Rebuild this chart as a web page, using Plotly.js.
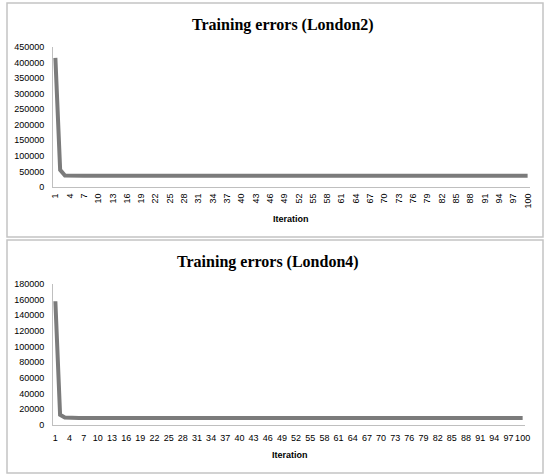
<!DOCTYPE html>
<html>
<head>
<meta charset="utf-8">
<script src="https://cdn.plot.ly/plotly-3.0.1.min.js"></script>
<style>html,body{margin:0;padding:0;background:#fff;}#chart{width:550px;height:475px;}</style>
</head>
<body>
<div id="chart"></div>
<script>
var titleTop = "Training errors (London2)";
var titleBottom = "Training errors (London4)";
var xAxisTitle = "Iteration";

var iterations = [];
for (var i = 1; i <= 100; i++) iterations.push(i);
var tickLabels = [1,4,7,10,13,16,19,22,25,28,31,34,37,40,43,46,49,52,55,58,61,64,67,70,73,76,79,82,85,88,91,94,97,100];

var errorsLondon2 = [
415000,55000,37000,36000,36000,36000,36000,36000,36000,36000,
36000,36000,36000,36000,36000,36000,36000,36000,36000,36000,
36000,36000,36000,36000,36000,36000,36000,36000,36000,36000,
36000,36000,36000,36000,36000,36000,36000,36000,36000,36000,
36000,36000,36000,36000,36000,36000,36000,36000,36000,36000,
36000,36000,36000,36000,36000,36000,36000,36000,36000,36000,
36000,36000,36000,36000,36000,36000,36000,36000,36000,36000,
36000,36000,36000,36000,36000,36000,36000,36000,36000,36000,
36000,36000,36000,36000,36000,36000,36000,36000,36000,36000,
36000,36000,36000,36000,36000,36000,36000,36000,36000,36000
];
var errorsLondon4 = [
158000,13000,9500,9000,9000,9000,9000,9000,9000,9000,
9000,9000,9000,9000,9000,9000,9000,9000,9000,9000,
9000,9000,9000,9000,9000,9000,9000,9000,9000,9000,
9000,9000,9000,9000,9000,9000,9000,9000,9000,9000,
9000,9000,9000,9000,9000,9000,9000,9000,9000,9000,
9000,9000,9000,9000,9000,9000,9000,9000,9000,9000,
9000,9000,9000,9000,9000,9000,9000,9000,9000,9000,
9000,9000,9000,9000,9000,9000,9000,9000,9000,9000,
9000,9000,9000,9000,9000,9000,9000,9000,9000,9000,
9000,9000,9000,9000,9000,9000,9000,9000,9000,9000
];

var W = 550, H = 475;
function px(x){ return x / W; }
function py(y){ return 1 - y / H; }

var lineStyle = {color: '#7b7b7b', width: 4, shape: 'linear'};
var traces = [
  {x: iterations, y: errorsLondon2, type: 'scatter', mode: 'lines', line: lineStyle, xaxis: 'x', yaxis: 'y', hoverinfo: 'none'},
  {x: iterations, y: errorsLondon4, type: 'scatter', mode: 'lines', line: lineStyle, xaxis: 'x2', yaxis: 'y2', hoverinfo: 'none'}
];

var tickFont = {family: 'Liberation Sans, Arial, sans-serif', size: 9, color: '#000'};
var axisLine = '#bfbfbf';

var layout = {
  width: W, height: H,
  margin: {l: 0, r: 0, t: 0, b: 0},
  paper_bgcolor: '#fff', plot_bgcolor: '#fff',
  showlegend: false,
  xaxis: {
    domain: [px(53), px(530)], anchor: 'y',
    range: [0.5, 100.5], tickmode: 'array', tickvals: tickLabels, ticktext: tickLabels.map(String),
    tickangle: -90, tickfont: tickFont, showgrid: false, zeroline: false,
    showline: true, linecolor: axisLine, linewidth: 1, ticks: '', ticklabelstandoff: 2
  },
  yaxis: {
    domain: [py(187), py(47)], anchor: 'x',
    range: [0, 450000], dtick: 50000, tickformat: 'd', tickfont: tickFont,
    showgrid: false, zeroline: false, showline: true, linecolor: axisLine, linewidth: 1, ticks: '', ticklabelstandoff: 6
  },
  xaxis2: {
    domain: [px(53), px(525)], anchor: 'y2',
    range: [0.5, 100.5], tickmode: 'array', tickvals: tickLabels, ticktext: tickLabels.map(String),
    tickangle: 0, tickfont: tickFont, showgrid: false, zeroline: false,
    showline: true, linecolor: axisLine, linewidth: 1, ticks: '', ticklabelstandoff: 4
  },
  yaxis2: {
    domain: [py(425), py(284)], anchor: 'x2',
    range: [0, 180000], dtick: 20000, tickformat: 'd', tickfont: tickFont,
    showgrid: false, zeroline: false, showline: true, linecolor: axisLine, linewidth: 1, ticks: '', ticklabelstandoff: 6
  },
  shapes: [
    {type: 'rect', xref: 'paper', yref: 'paper', x0: px(7), x1: px(543), y0: py(237), y1: py(3), line: {color: '#c4c4c4', width: 1.5}},
    {type: 'rect', xref: 'paper', yref: 'paper', x0: px(7), x1: px(543), y0: py(473), y1: py(240), line: {color: '#c4c4c4', width: 1.5}}
  ],
  annotations: [
    {text: '<b>' + titleTop + '</b>', xref: 'paper', yref: 'paper', x: px(283), y: py(25), showarrow: false, xanchor: 'center', yanchor: 'middle',
     font: {family: 'Liberation Serif, Times New Roman, serif', size: 16, color: '#000'}},
    {text: '<b>' + titleBottom + '</b>', xref: 'paper', yref: 'paper', x: px(268), y: py(262), showarrow: false, xanchor: 'center', yanchor: 'middle',
     font: {family: 'Liberation Serif, Times New Roman, serif', size: 16, color: '#000'}},
    {text: '<b>' + xAxisTitle + '</b>', xref: 'paper', yref: 'paper', x: px(291), y: py(219), showarrow: false, xanchor: 'center', yanchor: 'middle',
     font: {family: 'Liberation Sans, Arial, sans-serif', size: 9, color: '#000'}},
    {text: '<b>' + xAxisTitle + '</b>', xref: 'paper', yref: 'paper', x: px(290), y: py(455), showarrow: false, xanchor: 'center', yanchor: 'middle',
     font: {family: 'Liberation Sans, Arial, sans-serif', size: 9, color: '#000'}}
  ]
};

Plotly.newPlot('chart', traces, layout, {staticPlot: true, displayModeBar: false});
</script>
</body>
</html>
